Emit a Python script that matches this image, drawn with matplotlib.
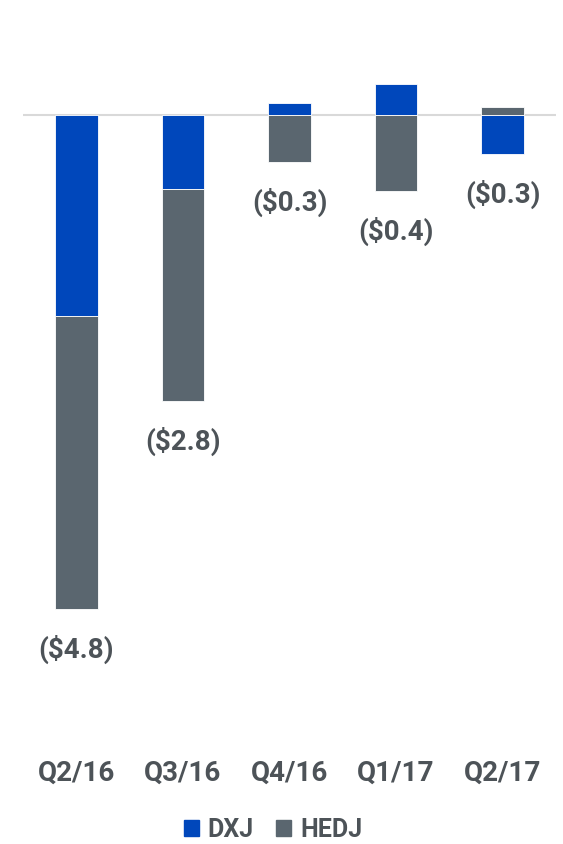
import matplotlib
matplotlib.use("Agg")
import matplotlib.pyplot as plt
import numpy as np
from matplotlib.patches import Patch

quarters = ["Q2/16", "Q3/16", "Q4/16", "Q1/17", "Q2/17"]
dxj = [-1.95, -0.72, 0.12, 0.30, -0.38]
hedj = [-2.85, -2.06, -0.46, -0.74, 0.08]
totals = [-4.8, -2.8, -0.3, -0.4, -0.3]

BLUE = "#0047BB"
GRAY = "#5A666F"
TEXT = "#4D5358"
FONT = ["Roboto", "DejaVu Sans"]

W, H, DPI = 563, 844, 100
fig = plt.figure(figsize=(W / DPI, H / DPI), dpi=DPI)

# axes placed in pixels: zero line at y=115, ~103 px per unit
left, right = 23, 556
top, bottom = 40, 740
ax = fig.add_axes([left / W, 1 - bottom / H, (right - left) / W, (bottom - top) / H])
ppu = 103.0
ax.set_ylim(-(bottom - 115) / ppu, (115 - top) / ppu)

x = np.arange(len(quarters))
dxj = np.array(dxj)
hedj = np.array(hedj)

# stack positives and negatives separately
pos_base = np.zeros(len(x))
neg_base = np.zeros(len(x))
for vals, color in ((dxj, BLUE), (hedj, GRAY)):
    base = np.where(vals >= 0, pos_base, neg_base)
    ax.bar(x, vals, bottom=base, width=0.40, color=color,
           edgecolor="white", linewidth=0.6, zorder=2)
    pos_base += np.where(vals >= 0, vals, 0)
    neg_base += np.where(vals < 0, vals, 0)

ax.axhline(0, color="#D9D9D9", linewidth=1.5, zorder=1)

# net label under the lowest end of each bar
for xi, t, b in zip(x, totals, neg_base):
    ax.annotate(f"(${abs(t):.1f})", (xi, b), xytext=(0, -29),
                textcoords="offset points", ha="center", va="center",
                fontsize=20, fontweight="bold", color=TEXT, family=FONT)

ax.set_xlim(-0.5, len(x) - 0.5)
ax.set_xticks(x)
ax.set_xticklabels(quarters, fontsize=20, fontweight="bold", color=TEXT,
                   family=FONT)
ax.tick_params(axis="x", length=0, pad=14)
ax.set_yticks([])
for sp in ax.spines.values():
    sp.set_visible(False)

handles = [Patch(color=BLUE, label="DXJ"), Patch(color=GRAY, label="HEDJ")]
fig.legend(handles=handles, loc="center", bbox_to_anchor=(273 / W, 1 - 830 / H),
           ncol=2, frameon=False, handlelength=0.6, handleheight=0.6,
           handletextpad=0.35, columnspacing=0.9,
           prop={"family": FONT, "weight": "bold", "size": 18}, labelcolor=TEXT)

fig.savefig("out.png", dpi=DPI)
